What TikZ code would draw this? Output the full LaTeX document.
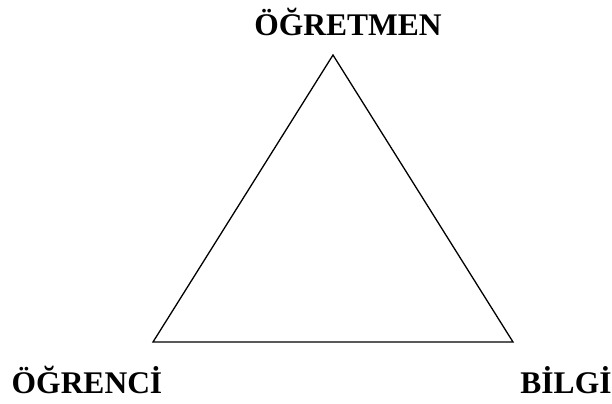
\documentclass[tikz,border=0pt]{standalone}
\usepackage{fontspec}
\setmainfont{Liberation Serif}
\usepackage{tikz}

\begin{document}
\begin{tikzpicture}[x=0.5pt, y=-0.5pt, label/.style={anchor=base, inner sep=0pt, font=\fontsize{15.75}{18}\selectfont\bfseries}]
        \useasboundingbox (0,0) rectangle (612,403);
        \coordinate (Top) at (333,55);
        \coordinate (Left) at (153,342);
        \coordinate (Right) at (513,342);
        \draw[line width=0.65pt, line join=miter] (Top) -- (Left) -- (Right) -- cycle;
        \node[label] (teacher) at (348,35) {ÖĞRETMEN};
        \node[label] (student) at (87,393) {ÖĞRENCİ};
        \node[label] (knowledge) at (566,393) {BİLGİ};
    \end{tikzpicture}
\end{document}
